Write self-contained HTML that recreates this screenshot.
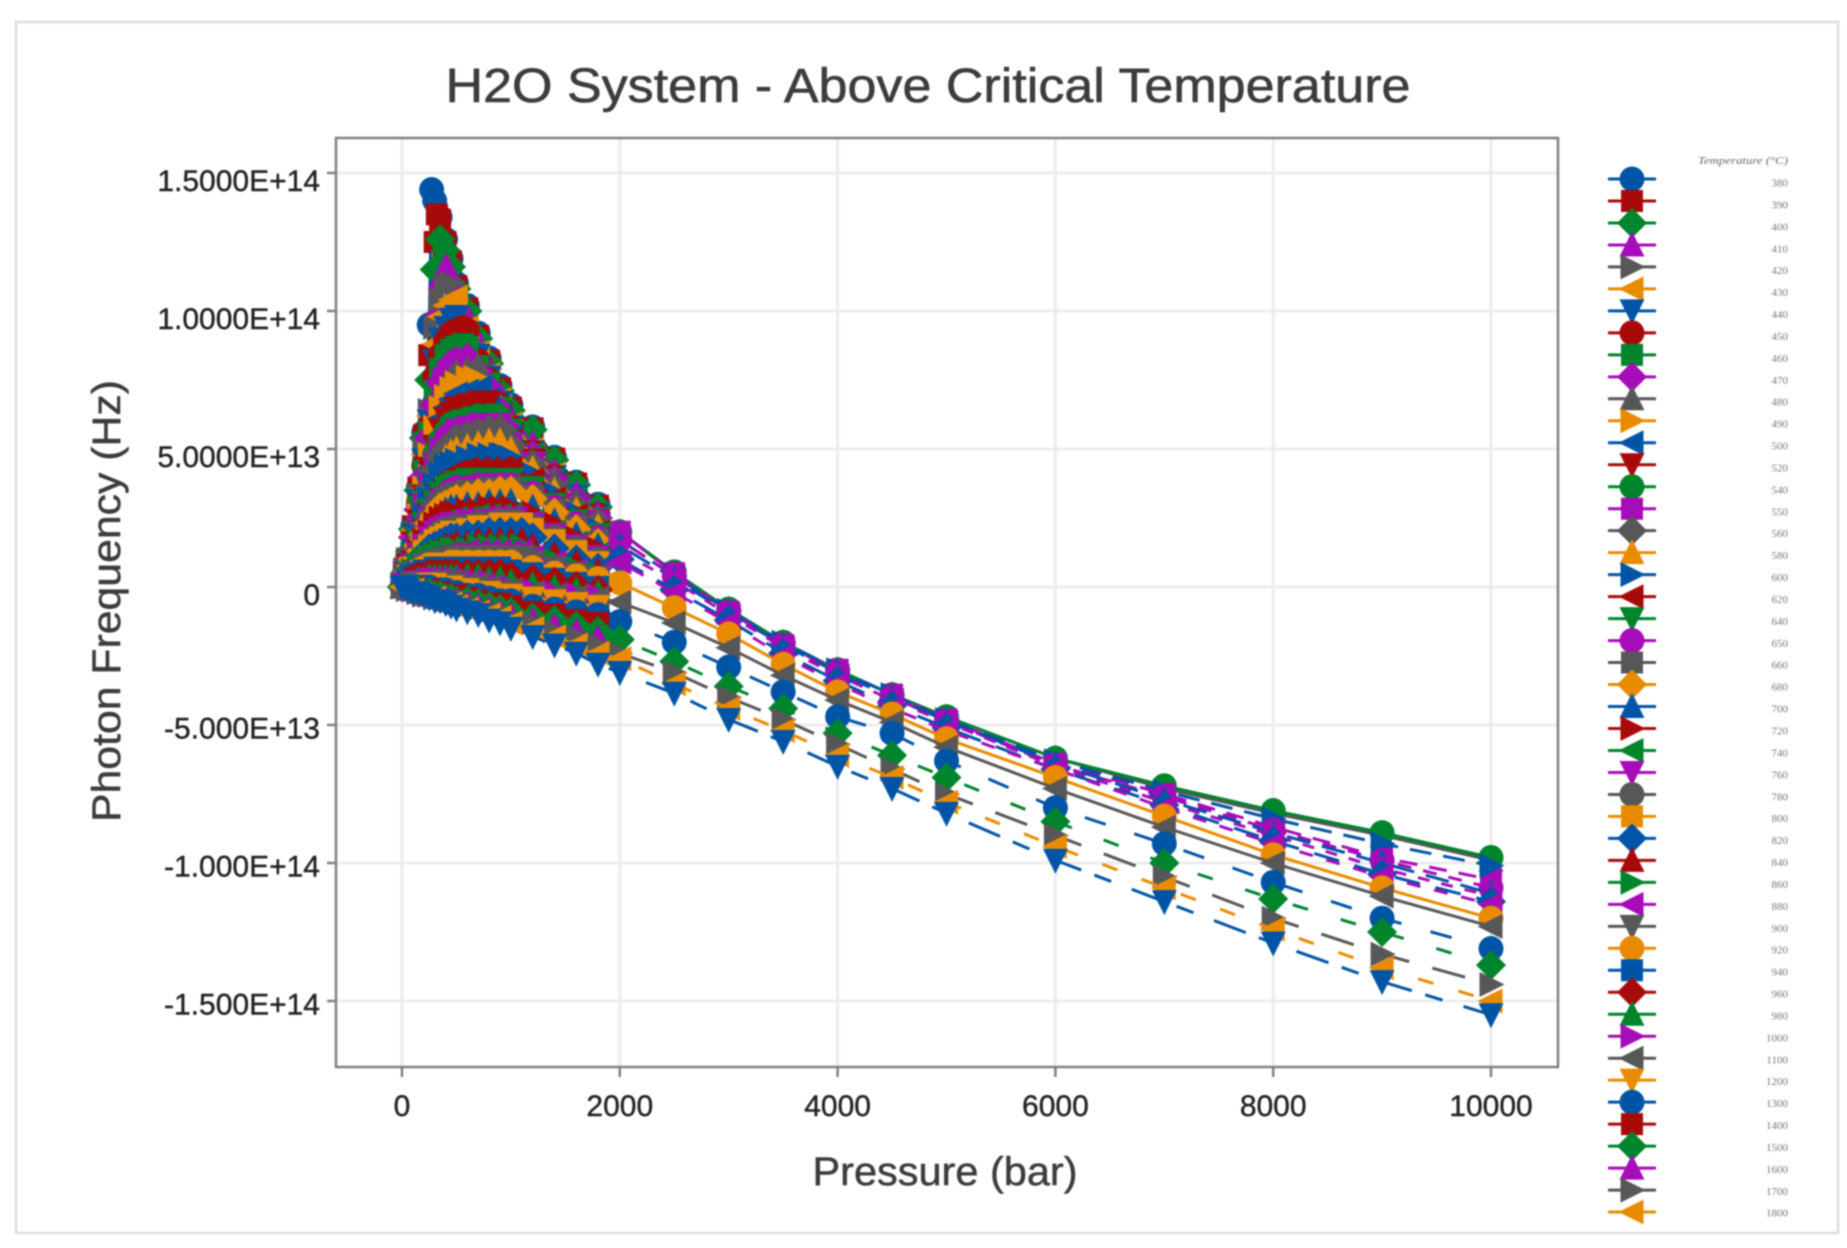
<!DOCTYPE html>
<html lang="en">
<head>
<meta charset="utf-8">
<title>H2O System - Above Critical Temperature</title>
<style>
html,body{margin:0;padding:0;background:#fff;width:1847px;height:1248px;overflow:hidden}
svg{display:block;filter:blur(0.9px)}
text{font-family:"Liberation Sans",sans-serif}
</style>
</head>
<body>
<svg id="chart" xmlns="http://www.w3.org/2000/svg" width="1847" height="1248" viewBox="0 0 1847 1248">
  <rect x="0" y="0" width="1847" height="1248" fill="#ffffff"/>
  <rect x="16" y="22" width="1822" height="1211" fill="#ffffff" stroke="#dedede" stroke-width="2.5"/>
  <text x="928" y="102" font-size="48" fill="#3c3c3c" stroke="#3c3c3c" stroke-width="0.6" text-anchor="middle" textLength="965" lengthAdjust="spacingAndGlyphs">H2O System - Above Critical Temperature</text>
  <g id="grid"></g>
  <rect x="336" y="138" width="1222" height="929" fill="none" stroke="#808080" stroke-width="2.5"/>
  <g id="axes"></g>
  <text x="945" y="1185" font-size="40" fill="#3c3c3c" stroke="#3c3c3c" stroke-width="0.5" text-anchor="middle" textLength="265" lengthAdjust="spacingAndGlyphs">Pressure (bar)</text>
  <text transform="translate(120 601) rotate(-90)" font-size="40" fill="#3c3c3c" stroke="#3c3c3c" stroke-width="0.5" text-anchor="middle" textLength="442" lengthAdjust="spacingAndGlyphs">Photon Frequency (Hz)</text>
  <g id="series"></g>
  <g id="legend">
    <text x="1788" y="164" font-size="10" font-style="italic" fill="#666666" text-anchor="end" textLength="90" lengthAdjust="spacingAndGlyphs" style="font-family:'Liberation Serif',serif">Temperature (°C)</text>
  </g>
</svg>
<script>
// Axis labels and ticks
const xTickValues = [0, 2000, 4000, 6000, 8000, 10000];
const yTickValues = [15, 10, 5, 0, -5, -10, -15];
const yTickLabels = ["1.5000E+14", "1.0000E+14", "5.0000E+13", "0", "-5.000E+13", "-1.000E+14", "-1.500E+14"];

// Legend temperatures (deg C); the 49th series has no visible legend row
const temperatures = [380,390,400,410,420,430,440,450,460,470,480,490,500,520,540,550,560,580,600,620,640,650,660,680,700,720,740,760,780,800,820,840,860,880,900,920,940,960,980,1000,1100,1200,1300,1400,1500,1600,1700,1800];

// Shared pressures (bar) for the dense low-pressure part of each series
const pressuresLow = [1,25,50,100,150,200,250,300,350,400,450,500,600,700,800,900,1000,1200,1400,1600,1800];
// Pressures for the series that continue past 1800 bar
const pressuresHigh = [2000,2500,3000,3500,4000,4500,5000,6000,7000,8000,9000,10000];

// Frequency values in units of 1e13 Hz
const peakPressures = [272,320,350,410,455,490,505,560,560,600,690,670,720,780,870,890,900,900,930,920,900,950,980,1000,1000,1000,1000,1050,1050,1100,1100,1100,1100,1100,1100,1000,900,800,700,600,400,200,100,null,null,null,null,null,null];
const peakValues = [14.4,13.5,12.6,11.6,11,10.5,9.8,9.4,8.8,8.3,8,7.6,7.2,6.7,6.2,5.9,5.7,5.3,4.8,4.3,3.9,3.7,3.6,3.5,3.1,2.9,2.6,2.5,2.4,2.3,2,1.7,1.5,1.3,1.1,0.9,0.7,0.5,0.4,0.3,0.2,0.1,0.05,null,null,null,null,null,null];
const seriesLow = [
[0,.5,1,2.2,3.6,5.6,9.5,14,13.4,12.6,11.9,11,10.2,9.2,8.3,7.3,6.6,5.8,4.7,3.8,3],
[0,.5,1,2.2,3.6,5.5,8.4,12.5,13.3,12.5,11.8,10.9,10.1,9.1,8.2,7.2,6.5,5.75,4.65,3.75,2.95],
[0,.5,1,2.1,3.5,5.4,7.5,11.5,12.6,12.2,11.6,10.8,10,9,8.1,7.1,6.4,5.7,4.6,3.7,2.9],
[0,.5,1,2.1,3.4,5.2,6.8,10,11.2,11.6,11.3,10.6,9.8,8.9,8,7,6.1,5.2,4.2,3.4,2.7],
[0,.5,1,2,3.3,5,6.4,9.4,10.4,10.9,11,10.4,9.6,8.7,7.9,6.9,6,5.1,4.1,3.3,2.7],
[0,.5,1,2,3.2,4.8,6.2,8.8,9.8,10.2,10.4,10.5,9.4,8.5,7.7,6.8,5.9,5,4.1,3.3,2.6],
[0,.5,.9,1.9,3.1,4.6,6,8.2,9,9.4,9.7,9.8,9.2,8.4,7.6,6.7,5.8,4.9,4,3.3,2.6],
[0,.4,.9,1.9,3,4.4,5.8,7.6,8.4,8.9,9.2,9.3,9.3,8.2,7.5,6.6,5.8,4.9,4,3.2,2.6],
[0,.4,.9,1.8,2.9,4.2,5.6,7.1,7.9,8.4,8.6,8.7,8.7,8,7.4,6.5,5.7,4.8,3.9,3.2,2.5],
[0,.4,.9,1.8,2.8,4,5.4,6.6,7.4,7.8,8.1,8.2,8.3,7.8,7.2,6.4,5.6,4.8,3.9,3.2,2.5],
[0,.4,.8,1.7,2.7,3.8,5.1,6.2,7,7.4,7.6,7.8,7.9,8,7,6.3,5.5,4.7,3.9,3.1,2.5],
[0,.4,.8,1.7,2.6,3.6,4.8,5.8,6.5,6.9,7.2,7.4,7.6,7.5,6.9,6.2,5.5,4.7,3.8,3.1,2.5],
[0,.4,.8,1.6,2.5,3.5,4.5,5.4,6.1,6.5,6.8,7,7.1,7.2,6.8,6.1,5.4,4.6,3.8,3.1,2.4],
[0,.4,.8,1.6,2.4,3.3,4.3,5.1,5.7,6.1,6.3,6.5,6.6,6.7,6.7,6,5.3,4.6,3.7,3,2.4],
[0,.4,.7,1.5,2.3,3.2,4,4.8,5.3,5.6,5.9,6,6.1,6.2,6.2,6.1,5.3,4.5,3.7,3,2.4],
[0,.3,.7,1.5,2.2,3,3.8,4.5,5,5.3,5.5,5.7,5.8,5.9,5.9,5.9,5.2,4.5,3.7,3,2.4],
[0,.3,.7,1.4,2.1,2.9,3.6,4.2,4.7,5,5.2,5.4,5.5,5.6,5.7,5.7,5.1,4.4,3.6,2.9,2.3],
[0,.3,.7,1.4,2,2.7,3.4,4,4.4,4.7,4.9,5,5.1,5.2,5.3,5.3,5,4.3,3.5,2.8,2.2],
[0,.3,.6,1.3,1.9,2.6,3.2,3.7,4.1,4.4,4.5,4.6,4.7,4.8,4.8,4.8,4.7,4.1,3.4,2.7,2.1],
[0,.3,.6,1.2,1.8,2.4,3,3.4,3.7,3.9,4.1,4.2,4.3,4.3,4.3,4.3,4.3,3.9,3.2,2.6,2],
[0,.3,.6,1.2,1.7,2.3,2.8,3.1,3.4,3.6,3.7,3.8,3.9,3.9,3.9,3.9,3.9,3.6,3,2.4,1.9],
[0,.3,.5,1.1,1.6,2.1,2.6,2.9,3.2,3.3,3.5,3.6,3.6,3.7,3.7,3.7,3.7,3.4,2.9,2.3,1.8],
[0,.3,.5,1.1,1.5,2,2.4,2.8,3,3.2,3.3,3.4,3.5,3.5,3.6,3.6,3.6,3.3,2.8,2.2,1.7],
[0,.3,.5,1,1.5,1.9,2.3,2.6,2.9,3,3.1,3.2,3.3,3.4,3.4,3.5,3.5,3.2,2.7,2.1,1.6],
[0,.2,.5,1,1.4,1.8,2.2,2.4,2.6,2.8,2.9,2.9,3,3,3.1,3.1,3.1,2.9,2.4,1.9,1.5],
[0,.2,.4,.9,1.3,1.7,2,2.3,2.5,2.6,2.7,2.7,2.8,2.8,2.9,2.9,2.9,2.7,2.3,1.8,1.4],
[0,.2,.4,.9,1.2,1.6,1.9,2.1,2.3,2.4,2.4,2.5,2.5,2.6,2.6,2.6,2.6,2.4,2,1.6,1.2],
[0,.2,.4,.8,1.2,1.5,1.8,2,2.1,2.2,2.3,2.3,2.4,2.4,2.4,2.5,2.5,2.3,1.9,1.5,1.1],
[0,.2,.4,.8,1.1,1.4,1.6,1.8,2,2.1,2.1,2.2,2.2,2.3,2.3,2.4,2.4,2.2,1.8,1.4,1],
[0,.2,.4,.7,1,1.3,1.5,1.7,1.8,1.9,2,2,2.1,2.2,2.2,2.3,2.3,2.1,1.7,1.3,.9],
[0,.2,.3,.7,.9,1.2,1.4,1.5,1.6,1.7,1.8,1.8,1.9,1.9,2,2,2,1.8,1.4,1,.7],
[0,.1,.3,.6,.9,1.1,1.2,1.3,1.4,1.5,1.5,1.6,1.6,1.7,1.7,1.7,1.7,1.5,1.2,.9,.6],
[0,.1,.3,.6,.8,1,1.1,1.2,1.3,1.3,1.4,1.4,1.4,1.5,1.5,1.5,1.5,1.3,1,.7,.5],
[0,.1,.3,.5,.7,.9,1,1.1,1.1,1.2,1.2,1.2,1.3,1.3,1.3,1.3,1.3,1.1,.9,.6,.45],
[0,.1,.2,.5,.6,.8,.9,.9,1,1,1,1.1,1.1,1.1,1.1,1.1,1.1,.9,.7,.5,.35],
[0,.1,.2,.4,.6,.7,.8,.8,.8,.8,.9,.9,.9,.9,.9,.9,.9,.7,.5,.4,.3],
[0,.1,.2,.4,.5,.6,.6,.7,.7,.7,.7,.7,.7,.7,.7,.7,.6,.5,.3,.15,0],
[0,.1,.2,.3,.4,.4,.5,.5,.5,.5,.5,.5,.5,.5,.5,.5,.4,.3,.2,.05,-.1],
[0,.1,.1,.2,.3,.3,.4,.4,.4,.4,.4,.4,.4,.4,.3,.3,.2,.1,0,-.1,-.2],
[0,.1,.1,.2,.2,.2,.3,.3,.3,.3,.3,.3,.3,.2,.2,.1,0,-.1,-.2,-.25,-.3],
[0,0,.1,.1,.1,.2,.2,.2,.2,.2,.2,.1,.1,.1,0,-.1,-.1,-.2,-.3,-.35,-.4],
[0,0,0,.1,.1,.1,.1,.1,0,0,0,-.1,-.1,-.2,-.2,-.3,-.3,-.4,-.5,-.6,-.7],
[0,0,0,.05,0,0,0,-.1,-.1,-.1,-.2,-.2,-.3,-.3,-.4,-.5,-.5,-.7,-.8,-.9,-1],
[0,0,0,0,-.1,-.1,-.1,-.2,-.2,-.3,-.3,-.3,-.4,-.5,-.6,-.6,-.7,-.9,-1,-1.2,-1.3],
[0,0,0,-.1,-.1,-.2,-.2,-.3,-.3,-.4,-.4,-.5,-.5,-.6,-.7,-.8,-.9,-1.1,-1.2,-1.4,-1.6],
[0,0,0,-.1,-.2,-.2,-.3,-.3,-.4,-.4,-.5,-.5,-.6,-.7,-.8,-.9,-1,-1.2,-1.4,-1.6,-1.85],
[0,0,-.1,-.1,-.2,-.3,-.3,-.4,-.4,-.5,-.5,-.6,-.7,-.8,-.9,-1,-1.1,-1.3,-1.6,-1.8,-2.1],
[0,0,-.1,-.1,-.2,-.3,-.4,-.4,-.5,-.6,-.6,-.7,-.8,-.9,-1,-1.1,-1.3,-1.5,-1.8,-2.1,-2.4],
[0,0,-.1,-.2,-.2,-.3,-.4,-.5,-.5,-.6,-.7,-.8,-.9,-1,-1.2,-1.3,-1.5,-1.8,-2.1,-2.4,-2.8]
];
// High-pressure continuation, keyed by series row number (1-based)
const seriesHigh = {
11:[2,.5,-.8,-2,-3,-3.9,-4.7,-6.2,-7.3,-8.2,-9,-9.9],
15:[2,.55,-.8,-2,-3,-3.9,-4.7,-6.2,-7.2,-8.1,-8.9,-9.8],
16:[2,.5,-.9,-2.1,-3,-3.9,-4.8,-6.4,-7.5,-8.7,-9.8,-10.6],
19:[1.7,.4,-.85,-2,-3,-3.9,-4.8,-6.3,-7.4,-8.4,-9.3,-10.1],
22:[1.7,.4,-.9,-2.1,-3.1,-4,-4.85,-6.45,-7.6,-8.8,-9.9,-10.9],
25:[1.5,.3,-.95,-2.1,-3.1,-4,-4.85,-6.4,-7.7,-8.9,-10,-11.1],
28:[1.3,.2,-1,-2.2,-3.2,-4.1,-4.9,-6.5,-7.8,-9,-10.2,-11.2],
31:[1,-.1,-1.2,-2.4,-3.4,-4.3,-5.1,-6.6,-7.9,-9.2,-10.4,-11.4],
34:[.9,-.2,-1.3,-2.5,-3.5,-4.4,-5.2,-6.6,-8,-9.3,-10.5,-11.5],
36:[.15,-.75,-1.7,-2.8,-3.8,-4.6,-5.5,-6.9,-8.3,-9.7,-10.9,-12],
41:[-.55,-1.3,-2.2,-3.2,-4.1,-4.9,-5.8,-7.3,-8.7,-10,-11.2,-12.3],
43:[-1.25,-2,-2.9,-3.8,-4.7,-5.3,-6.3,-8,-9.3,-10.7,-12,-13.1],
45:[-1.9,-2.7,-3.6,-4.4,-5.3,-6.1,-6.9,-8.5,-10,-11.3,-12.5,-13.7],
47:[-2.4,-3.1,-4,-4.8,-5.7,-6.6,-7.5,-9,-10.5,-12,-13.3,-14.4],
48:[-2.6,-3.5,-4.4,-5.2,-6.1,-6.9,-7.8,-9.4,-10.9,-12.4,-13.8,-15],
49:[-3.1,-3.85,-4.8,-5.6,-6.5,-7.3,-8.2,-9.9,-11.4,-12.9,-14.3,-15.5]
};

// Axis functions and styling
const xScale = p => 402 + p * 0.1089;
const yScale = v => 587 - v * 27.6;
const palette = ["#0054a6", "#a80a0a", "#00842c", "#a60cb8", "#575757", "#e98b00"];
const symbols = ["circle", "square", "diamond", "up", "right", "left", "down"];
const dashes = {16:"18 12", 19:"22 12", 22:"14 12", 25:"24 12", 28:"12 12", 31:"26 16", 34:"14 14", 43:"22 30", 45:"16 34", 47:"34 24", 48:"16 26", 49:"34 14 18 22"};

const NS = "http://www.w3.org/2000/svg";
function make(tag, attrs, parent) {
  const node = document.createElementNS(NS, tag);
  for (const key in attrs) node.setAttribute(key, attrs[key]);
  parent.appendChild(node);
  return node;
}
function markerPoints(kind, cx, cy) {
  const a = 12.5, b = 15;
  const c = pts => pts.map(q => (cx + q[0]) + "," + (cy + q[1])).join(" ");
  if (kind === "square") return c([[-11,-11],[11,-11],[11,11],[-11,11]]);
  if (kind === "diamond") return c([[0,-b],[b,0],[0,b],[-b,0]]);
  if (kind === "up") return c([[0,-a-1],[a,a-1],[-a,a-1]]);
  if (kind === "down") return c([[0,a+1],[a,-a+1],[-a,-a+1]]);
  if (kind === "right") return c([[a+1,0],[-a+1,-a],[-a+1,a]]);
  return c([[-a-1,0],[a-1,-a],[a-1,a]]);
}
function drawMarker(kind, color, cx, cy, parent) {
  if (kind === "circle") return make("circle", {cx: cx, cy: cy, r: 12.5, fill: color}, parent);
  return make("polygon", {points: markerPoints(kind, cx, cy), fill: color}, parent);
}

// Gridlines and ticks
const gridGroup = document.getElementById("grid");
const axesGroup = document.getElementById("axes");
xTickValues.forEach(v => {
  const gridLine = make("line", {x1: xScale(v), x2: xScale(v), y1: 138, y2: 1066, stroke: "#ececec", "stroke-width": 3}, gridGroup);
  
  
  const tick = make("line", {x1: xScale(v), x2: xScale(v), y1: 1067, y2: 1077, stroke: "#808080", "stroke-width": 2.5}, axesGroup);
  
  
  const label = make("text", {x: xScale(v), y: 1116, "font-size": 30, fill: "#222222", stroke: "#222222", "stroke-width": 0.4, "text-anchor": "middle"}, axesGroup);
  
  
  label.textContent = String(v);
});
yTickValues.forEach((v, i) => {
  const gridLine = make("line", {x1: 337, x2: 1558, y1: yScale(v), y2: yScale(v), stroke: "#ececec", "stroke-width": 3}, gridGroup);
  
  
  const tick = make("line", {x1: 327, x2: 337, y1: yScale(v), y2: yScale(v), stroke: "#808080", "stroke-width": 2.5}, axesGroup);
  
  
  const label = make("text", {x: 320, y: yScale(v) + (v < 0 ? 13.5 : 18), "font-size": 30, fill: "#222222", stroke: "#222222", "stroke-width": 0.4, "text-anchor": "end"}, axesGroup);
  
  
  label.textContent = yTickLabels[i];
});

// Series
const seriesGroup = document.getElementById("series");
seriesLow.forEach((row, i) => {
  const rowNumber = i + 1;
  const color = palette[i % palette.length];
  const kind = symbols[i % symbols.length];
  let points = row.map((v, j) => [pressuresLow[j], v]);
  if (peakPressures[i] !== null) points.push([peakPressures[i], peakValues[i]]);
  const tail = seriesHigh[rowNumber];
  if (tail) tail.forEach((v, j) => points.push([pressuresHigh[j], v]));
  points.sort((a, b) => a[0] - b[0]);
  const group = make("g", {}, seriesGroup);
  
  
  const attrs = {fill: "none", stroke: color, "stroke-width": 3,
    points: points.map(q => xScale(q[0]) + "," + yScale(q[1])).join(" ")};
  if (dashes[rowNumber]) attrs["stroke-dasharray"] = dashes[rowNumber];
  const line = make("polyline", attrs, group);
  
  
  points.forEach(q => {
    const mark = drawMarker(kind, color, xScale(q[0]), yScale(q[1]), group);
    
    
  });
});

// Legend
const legendGroup = document.getElementById("legend");
temperatures.forEach((t, i) => {
  const rowY = 179 + 21.98 * i;
  const color = palette[i % palette.length];
  const kind = symbols[i % symbols.length];
  const entry = make("g", {}, legendGroup);
  
  
  const swatch = make("line", {x1: 1608, x2: 1656, y1: rowY, y2: rowY, stroke: color, "stroke-width": 3}, entry);
  
  
  const mark = drawMarker(kind, color, 1632, rowY, entry);
  
  
  const label = make("text", {x: 1788, y: 186.5 + 21.92 * i, "font-size": 11, fill: "#777777", "text-anchor": "end"}, entry);
  label.style.fontFamily = "'Liberation Serif',serif";
  
  
  label.textContent = String(t);
});
</script>
</body>
</html>
